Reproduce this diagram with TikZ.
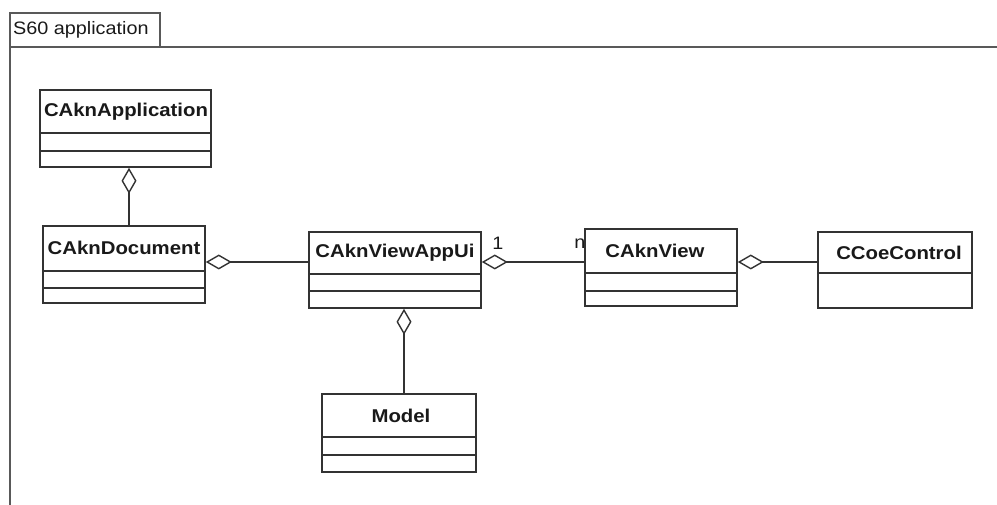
\documentclass[tikz,border=0pt]{standalone}
\usepackage{fontspec}
\setmainfont{Liberation Sans}
\usetikzlibrary{arrows.meta}
% horizontally widened text
\newcommand\widetext[1]{\scalebox{1.1}[1]{#1}}
\begin{document}
\begin{tikzpicture}[x=1pt,y=-1pt,
  classbox/.style={draw=black!80, line width=1.6pt, rectangle, inner sep=0pt, fill=white},
  compsep/.style={draw=black!80, line width=1.6pt},
  classname/.style={font=\fontsize{18.5}{18.5}\selectfont\bfseries, text=black!90, inner sep=0pt},
  plainlabel/.style={font=\fontsize{18}{18}\selectfont, text=black!90, inner sep=0pt},
  link/.style={draw=black!80, line width=1.6pt},
  aggr/.style={{Diamond[open,length=26pt,width=15pt,line width=1.4pt]}-},
  frameline/.style={draw=black!65, line width=1.8pt},
]
\useasboundingbox (0,0) rectangle (997,505);

% package frame with its tab
\draw[frameline] (10,505) -- (10,13) -- (160,13) -- (160,47);
\draw[frameline] (10,47) -- (997,47);
\node[plainlabel, anchor=west] (pkg) at (13,30) {\widetext{S60 application}};

% multiplicity labels
\node[plainlabel] (mult1) at (498,243) {\widetext{1}};
\node[plainlabel] (multn) at (580,244) {\widetext{n}};

% classes
\node[classbox, minimum width=171pt, minimum height=77pt] (app) at (125.5,128.5) {};
\node[classname] (appT) at (126,112) {\widetext{CAknApplication}};
\draw[compsep] (app.west |- 0,133) -- (app.east |- 0,133);
\draw[compsep] (app.west |- 0,151) -- (app.east |- 0,151);

\node[classbox, minimum width=162pt, minimum height=77pt] (doc) at (124,264.5) {};
\node[classname] (docT) at (124,248) {\widetext{CAknDocument}};
\draw[compsep] (doc.west |- 0,271) -- (doc.east |- 0,271);
\draw[compsep] (doc.west |- 0,288) -- (doc.east |- 0,288);

\node[classbox, minimum width=172pt, minimum height=76pt] (appui) at (395,270) {};
\node[classname] (appuiT) at (395,253) {\widetext{CAknViewAppUi}};
\draw[compsep] (appui.west |- 0,274) -- (appui.east |- 0,274);
\draw[compsep] (appui.west |- 0,291) -- (appui.east |- 0,291);

\node[classbox, minimum width=152pt, minimum height=77pt] (view) at (661,267.5) {};
\node[classname] (viewT) at (655,251) {\widetext{CAknView}};
\draw[compsep] (view.west |- 0,273) -- (view.east |- 0,273);
\draw[compsep] (view.west |- 0,291) -- (view.east |- 0,291);

\node[classbox, minimum width=154pt, minimum height=76pt] (ccoe) at (895,270) {};
\node[classname] (ccoeT) at (899,253) {\widetext{CCoeControl}};
\draw[compsep] (ccoe.west |- 0,273) -- (ccoe.east |- 0,273);

\node[classbox, minimum width=154pt, minimum height=78pt] (model) at (399,433) {};
\node[classname] (modelT) at (401,416) {\widetext{Model}};
\draw[compsep] (model.west |- 0,437) -- (model.east |- 0,437);
\draw[compsep] (model.west |- 0,455) -- (model.east |- 0,455);

% aggregations
\coordinate (row) at (0,262);
\coordinate (col) at (404,0);
\draw[link, aggr] (app.south -| 129,0) -- (doc.north -| 129,0);
\draw[link, aggr] (doc.east |- row) -- (appui.west |- row);
\draw[link, aggr] (appui.east |- row) -- (view.west |- row);
\draw[link, aggr] (view.east |- row) -- (ccoe.west |- row);
\draw[link, aggr] (appui.south -| col) -- (model.north -| col);
\end{tikzpicture}
\end{document}
